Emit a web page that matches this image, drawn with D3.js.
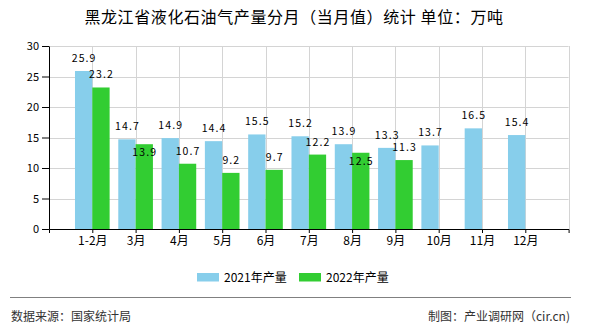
<!DOCTYPE html>
<html>
<head>
<meta charset="utf-8">
<script src="https://cdn.jsdelivr.net/npm/d3@7"></script>
<style>
  html, body { margin: 0; padding: 0; background: #fff; }
  svg { display: block; }
  text { font-family: "Noto Sans CJK SC", "Liberation Sans", sans-serif; }
</style>
</head>
<body>
<svg id="chart" width="590" height="330"></svg>
<script>
// Monthly LPG output, Heilongjiang (10k tonnes)
const months = ["1-2月", "3月", "4月", "5月", "6月", "7月", "8月", "9月", "10月", "11月", "12月"];
const output2021 = [25.9, 14.7, 14.9, 14.4, 15.5, 15.2, 13.9, 13.3, 13.7, 16.5, 15.4];
const output2022 = [23.2, 13.9, 10.7, 9.2, 9.7, 12.2, 12.5, 11.3, null, null, null];
const yTicks = [0, 5, 10, 15, 20, 25, 30];
const seriesNames = ["2021年产量", "2022年产量"];
const seriesColors = ["#87CEEB", "#32CD32"];

const svg = d3.select("#chart");
const plotLeft = 49, plotRight = 568.6, plotTop = 46, plotBottom = 229;

const x = d3.scalePoint().domain(months).range([plotLeft, plotRight]).padding(1);
const step = x.step();
const barW = step * 0.4;
const y = d3.scaleLinear().domain([0, 30]).range([plotBottom, plotTop]);

// title
svg.append("text")
  .attr("x", 294).attr("y", 23)
  .attr("text-anchor", "middle")
  .attr("font-size", 16)
  .attr("letter-spacing", 0.6)
  .attr("fill", "#000")
  .text("黑龙江省液化石油气产量分月（当月值）统计 单位：万吨");

// grid
const grid = svg.append("g").attr("stroke", "#d4d4d4").attr("stroke-width", 1);
grid.selectAll("line.h").data(yTicks.filter(d => d > 0)).join("line")
  .attr("x1", plotLeft).attr("x2", plotRight)
  .attr("y1", d => Math.round(y(d)) + 0.5).attr("y2", d => Math.round(y(d)) + 0.5);
grid.selectAll("line.v").data(months).join("line")
  .attr("x1", d => Math.round(x(d)) + 0.5).attr("x2", d => Math.round(x(d)) + 0.5)
  .attr("y1", plotTop).attr("y2", plotBottom);
grid.append("line")
  .attr("x1", Math.round(plotRight) + 0.5).attr("x2", Math.round(plotRight) + 0.5)
  .attr("y1", plotTop).attr("y2", plotBottom);

// bars
const series = [output2021, output2022];
const labelGap = 9;
series.forEach((vals, si) => {
  const g = svg.append("g");
  const data = months.map((m, i) => ({ m, i, v: vals[i] })).filter(d => d.v != null);
  g.selectAll("rect").data(data).join("rect")
    .attr("x", d => x(d.m) - barW + si * barW)
    .attr("y", d => y(d.v))
    .attr("width", barW)
    .attr("height", d => plotBottom - y(d.v))
    .attr("fill", seriesColors[si]);
});

// value labels; a 2022 label that would collide with its 2021 neighbour drops inside the bar
const labels = svg.append("g")
  .attr("font-family", "'Liberation Sans', sans-serif")
  .attr("font-size", 10.5)
  .attr("letter-spacing", 1.1)
  .attr("fill", "#000")
  .attr("text-anchor", "middle");
series.forEach((vals, si) => {
  months.forEach((m, i) => {
    const v = vals[i];
    if (v == null) return;
    let ly = y(v) - labelGap;
    if (si === 1 && output2021[i] != null) {
      const otherY = y(output2021[i]) - labelGap;
      if (ly - otherY < 10) ly = y(v) + 12;
    }
    labels.append("text")
      .attr("x", x(m) - barW / 2 + si * barW + 0.5)
      .attr("y", ly)
      .text(v.toFixed(1));
  });
});

// axes
const yAxis = svg.append("g")
  .attr("transform", `translate(${plotLeft},0)`)
  .call(d3.axisLeft(y).tickValues(yTicks).tickSize(7).tickSizeOuter(0));
yAxis.selectAll("text")
  .attr("font-family", "'Liberation Sans', sans-serif")
  .attr("font-size", 11).attr("fill", "#000").attr("x", -10);

const xAxis = svg.append("g")
  .attr("transform", `translate(0,${plotBottom})`)
  .call(d3.axisBottom(x).tickSize(4).tickSizeOuter(4));
xAxis.selectAll("text")
  .attr("font-size", 12).attr("fill", "#000").attr("y", 7).attr("dy", "0.71em");
svg.selectAll(".domain, .tick line").attr("stroke", "#000");

// legend
const legend = svg.append("g");
const legendX = [197, 299];
seriesNames.forEach((name, i) => {
  legend.append("rect")
    .attr("x", legendX[i]).attr("y", 273)
    .attr("width", 22).attr("height", 8.5)
    .attr("fill", seriesColors[i]);
  legend.append("text")
    .attr("x", legendX[i] + 27).attr("y", 282)
    .attr("font-size", 12).attr("fill", "#000")
    .text(name);
});

// footer
svg.append("line")
  .attr("x1", 10).attr("x2", 571)
  .attr("y1", 297.5).attr("y2", 297.5)
  .attr("stroke", "#808080").attr("stroke-width", 1);
svg.append("text")
  .attr("x", 11).attr("y", 321)
  .attr("font-size", 12).attr("fill", "#333")
  .text("数据来源：国家统计局");
svg.append("text")
  .attr("x", 570).attr("y", 321)
  .attr("text-anchor", "end")
  .attr("font-size", 12).attr("fill", "#333")
  .text("制图：产业调研网（cir.cn)");
</script>
</body>
</html>
